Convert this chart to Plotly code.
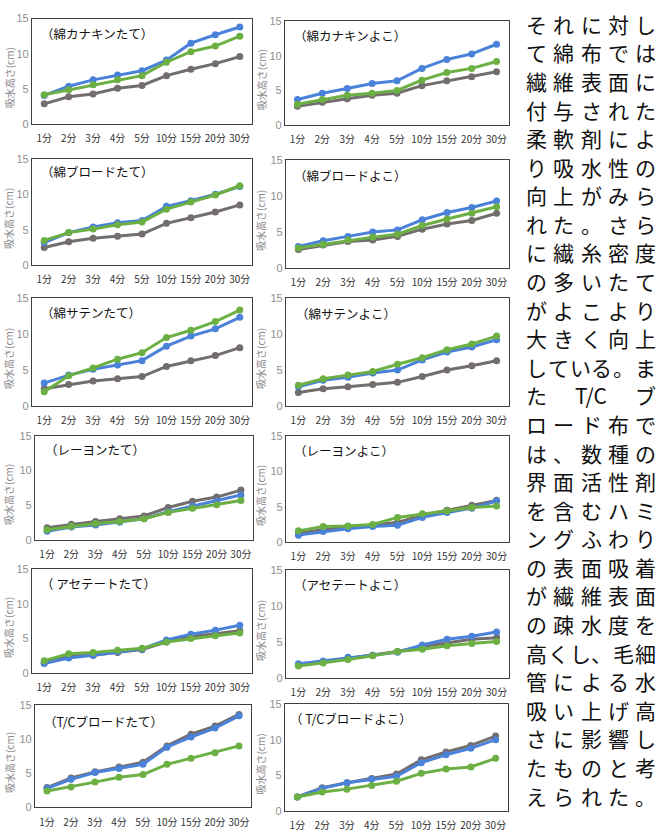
import plotly.graph_objects as go

# Time points of the wicking test
categories = ["1分", "2分", "3分", "4分", "5分", "10分", "15分", "20分", "30分"]

panel_titles = [
    "（綿カナキンたて）", "（綿カナキンよこ）",
    "（綿ブロードたて）", "（綿ブロードよこ）",
    "（綿サテンたて）", "（綿サテンよこ）",
    "（レーヨンたて）", "（レーヨンよこ）",
    "（ アセテートたて）", "（アセテートよこ）",
    "（T/Cブロードたて）", "（ T/Cブロードよこ）",
]

# Water absorption height (cm) for each fabric: blue, green and gray series
kanakin_tate_blue = [4.1, 5.4, 6.3, 7.0, 7.6, 9.1, 11.5, 12.7, 13.8]
kanakin_tate_green = [4.2, 4.9, 5.6, 6.3, 6.9, 8.8, 10.3, 11.1, 12.5]
kanakin_tate_gray = [2.9, 3.9, 4.3, 5.1, 5.5, 6.9, 7.8, 8.6, 9.6]

kanakin_yoko_blue = [3.7, 4.6, 5.3, 6.0, 6.4, 8.2, 9.5, 10.3, 11.7]
kanakin_yoko_green = [3.0, 3.7, 4.3, 4.6, 5.0, 6.5, 7.6, 8.2, 9.2]
kanakin_yoko_gray = [2.7, 3.3, 3.8, 4.3, 4.6, 5.7, 6.4, 7.0, 7.7]

broad_tate_blue = [3.2, 4.6, 5.4, 6.0, 6.3, 8.3, 9.1, 10.0, 11.1]
broad_tate_green = [3.5, 4.6, 5.1, 5.7, 6.1, 7.9, 8.9, 9.9, 11.2]
broad_tate_gray = [2.5, 3.3, 3.8, 4.1, 4.4, 5.9, 6.7, 7.5, 8.5]

broad_yoko_blue = [3.0, 3.8, 4.4, 5.0, 5.3, 6.7, 7.7, 8.4, 9.3]
broad_yoko_green = [2.8, 3.3, 3.9, 4.3, 4.7, 5.9, 6.8, 7.6, 8.5]
broad_yoko_gray = [2.6, 3.2, 3.7, 3.9, 4.4, 5.4, 6.1, 6.6, 7.6]

satin_tate_blue = [3.2, 4.3, 5.1, 5.7, 6.3, 8.3, 9.7, 10.7, 12.3]
satin_tate_green = [2.0, 4.2, 5.3, 6.5, 7.4, 9.5, 10.5, 11.7, 13.3]
satin_tate_gray = [2.4, 3.0, 3.5, 3.8, 4.1, 5.5, 6.3, 7.0, 8.1]

satin_yoko_blue = [2.7, 3.6, 4.0, 4.6, 5.0, 6.4, 7.5, 8.2, 9.2]
satin_yoko_green = [2.9, 3.8, 4.3, 4.8, 5.8, 6.7, 7.8, 8.6, 9.7]
satin_yoko_gray = [1.9, 2.4, 2.7, 3.0, 3.3, 4.1, 5.0, 5.6, 6.3]

rayon_tate_blue = [1.3, 1.9, 2.2, 2.6, 3.1, 4.1, 4.9, 5.6, 6.5]
rayon_tate_green = [1.5, 2.0, 2.4, 2.7, 3.1, 4.0, 4.6, 5.1, 5.7]
rayon_tate_gray = [1.8, 2.3, 2.7, 3.1, 3.5, 4.7, 5.6, 6.2, 7.2]

rayon_yoko_blue = [1.0, 1.5, 1.9, 2.2, 2.4, 3.5, 4.2, 4.8, 5.8]
rayon_yoko_green = [1.6, 2.2, 2.3, 2.5, 3.5, 4.0, 4.4, 4.9, 5.1]
rayon_yoko_gray = [1.3, 1.8, 2.2, 2.4, 2.8, 3.8, 4.5, 5.2, 5.9]

acetate_tate_blue = [1.4, 2.2, 2.6, 3.1, 3.5, 4.8, 5.6, 6.2, 6.9]
acetate_tate_green = [1.8, 2.8, 3.0, 3.3, 3.6, 4.5, 5.0, 5.4, 5.8]
acetate_tate_gray = [1.6, 2.5, 2.6, 3.0, 3.4, 4.5, 5.3, 5.7, 6.1]

acetate_yoko_blue = [2.0, 2.4, 2.9, 3.2, 3.6, 4.6, 5.4, 5.8, 6.4]
acetate_yoko_green = [1.7, 2.1, 2.6, 3.1, 3.7, 4.0, 4.5, 4.8, 5.1]
acetate_yoko_gray = [1.8, 2.3, 2.8, 3.2, 3.7, 4.4, 4.9, 5.4, 5.6]

tc_tate_blue = [2.8, 4.1, 5.1, 5.7, 6.3, 8.8, 10.3, 11.6, 13.4]
tc_tate_green = [2.4, 3.0, 3.7, 4.4, 4.8, 6.3, 7.2, 8.0, 9.0]
tc_tate_gray = [2.9, 4.3, 5.2, 5.9, 6.6, 9.0, 10.7, 11.9, 13.6]

tc_yoko_blue = [2.0, 3.2, 4.0, 4.5, 4.9, 6.8, 7.9, 8.8, 10.0]
tc_yoko_green = [2.0, 2.7, 3.1, 3.6, 4.2, 5.3, 5.9, 6.2, 7.4]
tc_yoko_gray = [2.0, 3.3, 4.0, 4.6, 5.2, 7.2, 8.3, 9.2, 10.5]

panels = [
    (kanakin_tate_blue, kanakin_tate_green, kanakin_tate_gray),
    (kanakin_yoko_blue, kanakin_yoko_green, kanakin_yoko_gray),
    (broad_tate_blue, broad_tate_green, broad_tate_gray),
    (broad_yoko_blue, broad_yoko_green, broad_yoko_gray),
    (satin_tate_blue, satin_tate_green, satin_tate_gray),
    (satin_yoko_blue, satin_yoko_green, satin_yoko_gray),
    (rayon_tate_blue, rayon_tate_green, rayon_tate_gray),
    (rayon_yoko_blue, rayon_yoko_green, rayon_yoko_gray),
    (acetate_tate_blue, acetate_tate_green, acetate_tate_gray),
    (acetate_yoko_blue, acetate_yoko_green, acetate_yoko_gray),
    (tc_tate_blue, tc_tate_green, tc_tate_gray),
    (tc_yoko_blue, tc_yoko_green, tc_yoko_gray),
]

# Body text beside the charts, one entry per printed line (tokens spread across the line)
text_lines = [
    "それに対し", "て綿布では", "繊維表面に", "付与された", "柔軟剤によ",
    "り吸水性の", "向上がみら", "れた。さら", "に繊糸密度", "の多いたて",
    "がよこより", "大きく向上", "している。ま", ["た", "T/C", "ブ"], "ロード布で",
    "は、数種の", "界面活性剤", "を含むハミ", "ングふわり", "の表面吸着",
    "が繊維表面", "の疎水度を", "高くし、毛細", "管による水", "吸い上げ高",
    "さに影響し", "たものと考", "えられた。",
]

W, H = 661, 840
FONT = "Noto Sans CJK JP"
BLUE = "#4a82da"
GREEN = "#6cb044"
GRAY = "#736d6d"

# Plot-area boxes in pixels: (left, right, top, bottom)
boxes = [
    (32, 252, 12.7, 120), (285, 509, 15.7, 120.7),
    (32, 252, 155, 263), (286, 509, 156, 266),
    (32, 252, 296, 406), (286, 509, 296, 406),
    (35, 253, 436, 542), (286, 509, 436, 544),
    (32, 252, 571, 677), (286, 509, 572, 682),
    (35, 251, 709, 813), (285, 508, 708, 817),
]
title_pos = [
    (39, 28), (292, 30), (39, 168), (292, 172), (39, 311), (294, 312),
    (43, 450), (292, 451), (39, 586), (292, 587), (42, 726), (288, 723),
]

fig = go.Figure()
layout = {}
annotations = []

for i, ((blue, green, gray), (l, r, t, b)) in enumerate(zip(panels, boxes)):
    n = i + 1
    xa = "x" if n == 1 else f"x{n}"
    ya = "y" if n == 1 else f"y{n}"
    for vals, col in ((gray, GRAY), (blue, BLUE), (green, GREEN)):
        fig.add_trace(go.Scatter(
            x=categories, y=vals, xaxis=xa, yaxis=ya, mode="lines+markers",
            line=dict(color=col, width=3),
            marker=dict(color=col, size=7),
            showlegend=False, hoverinfo="skip",
        ))
    axis_line = dict(showline=True, mirror=True, linecolor="#3f3f3f", linewidth=1.3,
                     showgrid=False, zeroline=False, ticks="")
    layout["xaxis" if n == 1 else f"xaxis{n}"] = dict(
        domain=[l / W, r / W], anchor=ya, type="category",
        categoryorder="array", categoryarray=categories, range=[-0.5, 8.5],
        tickangle=0,
        tickfont=dict(family=FONT, size=10, color="#333333"),
        ticklabelstandoff=5, **axis_line)
    layout["yaxis" if n == 1 else f"yaxis{n}"] = dict(
        domain=[1 - b / H, 1 - t / H], anchor=xa, range=[0, 15],
        tickvals=[0, 5, 10, 15], tickfont=dict(family="Liberation Sans", size=11, color="#8f8f8f"),
        **axis_line)
    tx, ty = title_pos[i]
    annotations.append(dict(
        text=panel_titles[i], x=tx / W, y=1 - ty / H, xref="paper", yref="paper",
        xanchor="left", yanchor="middle", showarrow=False,
        font=dict(family=FONT, size=12.5, color="#111111")))
    yt_x = 9 if l < 100 else 261
    annotations.append(dict(
        text="吸水高さ(cm)", x=yt_x / W, y=1 - ((t + b) / 2 + 7) / H,
        xref="paper", yref="paper", xanchor="center", yanchor="middle",
        textangle=-90, showarrow=False,
        font=dict(family=FONT, size=10, color="#8a8a8a")))

# Justified vertical column of body text
col_left, col_right = 526, 656
line_top, line_step = 18, 29.0
for j, line in enumerate(text_lines):
    tokens = list(line) if isinstance(line, str) else line
    widths = [21 if len(tok) == 1 else 34 for tok in tokens]
    gap = (col_right - col_left - sum(widths)) / (len(tokens) - 1)
    x = col_left
    y = line_top + j * line_step
    for tok, w in zip(tokens, widths):
        annotations.append(dict(
            text=tok, x=(x + w / 2) / W, y=1 - y / H, xref="paper", yref="paper",
            xanchor="center", yanchor="middle", showarrow=False,
            font=dict(family=FONT, size=21, color="#111111")))
        x += w + gap

fig.update_layout(
    width=W, height=H, margin=dict(l=0, r=0, t=0, b=0),
    paper_bgcolor="white", plot_bgcolor="white",
    annotations=annotations, **layout)

fig.write_html("out.html")
